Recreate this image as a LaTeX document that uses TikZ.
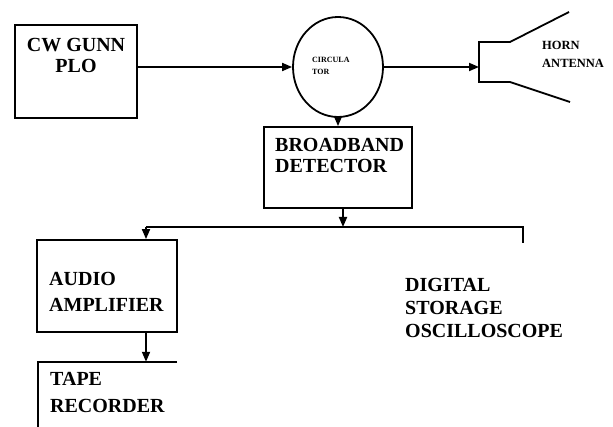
\documentclass[tikz,border=0pt]{standalone}
\usepackage{fontspec}
\setmainfont{Liberation Serif}
\usetikzlibrary{arrows.meta,shapes.geometric}
\begin{document}
\begin{tikzpicture}[x=1pt,y=-1pt,
  ln/.style={line width=1.8pt,line join=miter},
  box/.style={draw,ln,rectangle,inner sep=0pt},
  arr/.style={ln,-{Triangle[length=10pt,width=8pt]}},
  big/.style={inner sep=0pt,align=left,font=\bfseries\fontsize{20}{#1}\selectfont},
  big/.default=22]
\useasboundingbox (0,0) rectangle (613,427);
% blocks
\node[box,minimum width=122pt,minimum height=93pt] (gunn) at (76,71.5) {};
\node[draw,ln,ellipse,inner sep=0pt,minimum width=90pt,minimum height=100pt] (circ) at (338,67) {};
\node[box,minimum width=148pt,minimum height=81pt] (det) at (338,167.5) {};
\node[box,minimum width=140pt,minimum height=92pt] (audio) at (107,286) {};
\node[inner sep=0pt,minimum width=139pt,minimum height=80pt] (tape) at (107.5,402) {};
\draw[ln] (tape.north east) -- (tape.north west) -- (tape.south west);
% horn
\coordinate (horn) at (479,66);
\draw[ln] (569,12) -- (510,42) -- (479,42) -- (479,82) -- (510,82) -- (570,102);
% labels (anchored at the baseline of the last line)
\node[big=21,anchor=base,align=center] (gunnt) at (76,73) {CW GUNN\\PLO};
\node[inner sep=0pt,align=left,anchor=base west,font=\bfseries\fontsize{8}{12}\selectfont] (circt) at (312,75) {CIRCULA\\TOR};
\node[inner sep=0pt,align=left,anchor=base west,font=\bfseries\fontsize{12.5}{18}\selectfont] (hornt) at (542,68) {HORN\\ANTENNA};
\node[big=21,anchor=base west] (dett) at (275,173) {BROADBAND\\DETECTOR};
\node[big=26,anchor=base west] (audiot) at (49,312) {AUDIO\\AMPLIFIER};
\node[big=26,anchor=base west] (tapet) at (50,412) {TAPE\\RECORDER};
\node[big=23,anchor=base west] (dso) at (405,338) {DIGITAL\\STORAGE\\OSCILLOSCOPE};
% connectors
\draw[arr] (gunn.east |- circ.west) -- (circ.west);
\draw[arr] (circ.east) -- (circ.east -| horn);
\draw[arr] (circ.south) -- (det.north);
\coordinate (busL) at (146,227);
\coordinate (busR) at (523,227);
\draw[arr] ([xshift=5pt]det.south) -- ([xshift=5pt]det.south |- busL);
\draw[ln] (busL) -- (busR) -- ++(0,16);
\draw[arr] (busL) -- (busL |- audio.north);
\draw[arr] ([xshift=39pt]audio.south) -- ([xshift=39pt]audio.south |- tape.north);
\end{tikzpicture}
\end{document}
